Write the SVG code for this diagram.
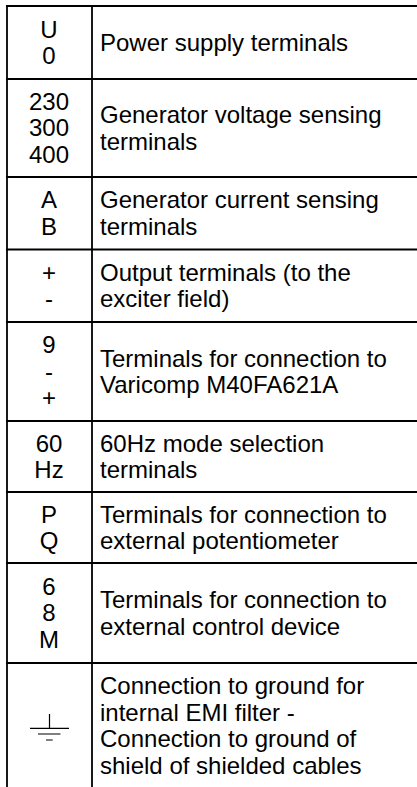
<svg xmlns="http://www.w3.org/2000/svg" width="417" height="787" viewBox="0 0 417 787">
<style>
text{font-family:"Liberation Sans",Arial,sans-serif;font-size:24px;fill:#000}
.c{text-anchor:middle}
.h{stroke:#000;stroke-width:2.2;fill:none}
.v{stroke:#000;stroke-width:1.8;fill:none}
.g{stroke:#000;stroke-width:1.2;fill:none}
</style>
<rect width="417" height="787" fill="#fff"/>
<g id="grid">
<line class="v" x1="7" y1="5" x2="7" y2="787"/>
<line class="v" x1="92" y1="5" x2="92" y2="787"/>
<line class="h" x1="6" y1="6" x2="417" y2="6"/>
<line class="h" x1="6" y1="79" x2="417" y2="79"/>
<line class="h" x1="6" y1="177" x2="417" y2="177"/>
<line class="h" x1="6" y1="249.5" x2="417" y2="249.5"/>
<line class="h" x1="6" y1="322" x2="417" y2="322"/>
<line class="h" x1="6" y1="421" x2="417" y2="421"/>
<line class="h" x1="6" y1="492" x2="417" y2="492"/>
<line class="h" x1="6" y1="563" x2="417" y2="563"/>
<line class="h" x1="6" y1="663" x2="417" y2="663"/>
</g>
<g id="row-power">
<text class="c" x="49" y="37.6">U</text><text class="c" x="49" y="64.1">0</text>
<text x="100" y="50.8">Power supply terminals</text>
</g>
<g id="row-voltage">
<text class="c" x="49" y="109.8">230</text><text class="c" x="49" y="136.3">300</text><text class="c" x="49" y="162.8">400</text>
<text x="100" y="123.1">Generator voltage sensing</text><text x="100" y="149.6">terminals</text>
</g>
<g id="row-current">
<text class="c" x="49" y="208.3">A</text><text class="c" x="49" y="234.8">B</text>
<text x="100" y="208.3">Generator current sensing</text><text x="100" y="234.8">terminals</text>
</g>
<g id="row-output">
<text class="c" x="49" y="280.8">+</text><text class="c" x="49" y="307.3">-</text>
<text x="100" y="280.8">Output terminals (to the</text><text x="100" y="307.3">exciter field)</text>
</g>
<g id="row-varicomp">
<text class="c" x="49" y="353.3">9</text><text class="c" x="49" y="379.8">-</text><text class="c" x="49" y="406.3">+</text>
<text x="100" y="366.6">Terminals for connection to</text><text x="100" y="393.1">Varicomp M40FA621A</text>
</g>
<g id="row-60hz">
<text class="c" x="49" y="451.6">60</text><text class="c" x="49" y="478.1">Hz</text>
<text x="100" y="451.6">60Hz mode selection</text><text x="100" y="478.1">terminals</text>
</g>
<g id="row-pot">
<text class="c" x="49" y="522.6">P</text><text class="c" x="49" y="549.1">Q</text>
<text x="100" y="522.6">Terminals for connection to</text><text x="100" y="549.1">external potentiometer</text>
</g>
<g id="row-control">
<text class="c" x="49" y="594.8">6</text><text class="c" x="49" y="621.3">8</text><text class="c" x="49" y="647.8">M</text>
<text x="100" y="608.1">Terminals for connection to</text><text x="100" y="634.6">external control device</text>
</g>
<g id="row-ground">
<path class="g" d="M49.5 714V728.3M30 728.3H69M38 734H60.5M46 740H52.7"/>
<text x="100" y="694.1">Connection to ground for</text><text x="100" y="720.6">internal EMI filter -</text>
<text x="100" y="747.1">Connection to ground of</text><text x="100" y="773.6">shield of shielded cables</text>
</g>
</svg>
